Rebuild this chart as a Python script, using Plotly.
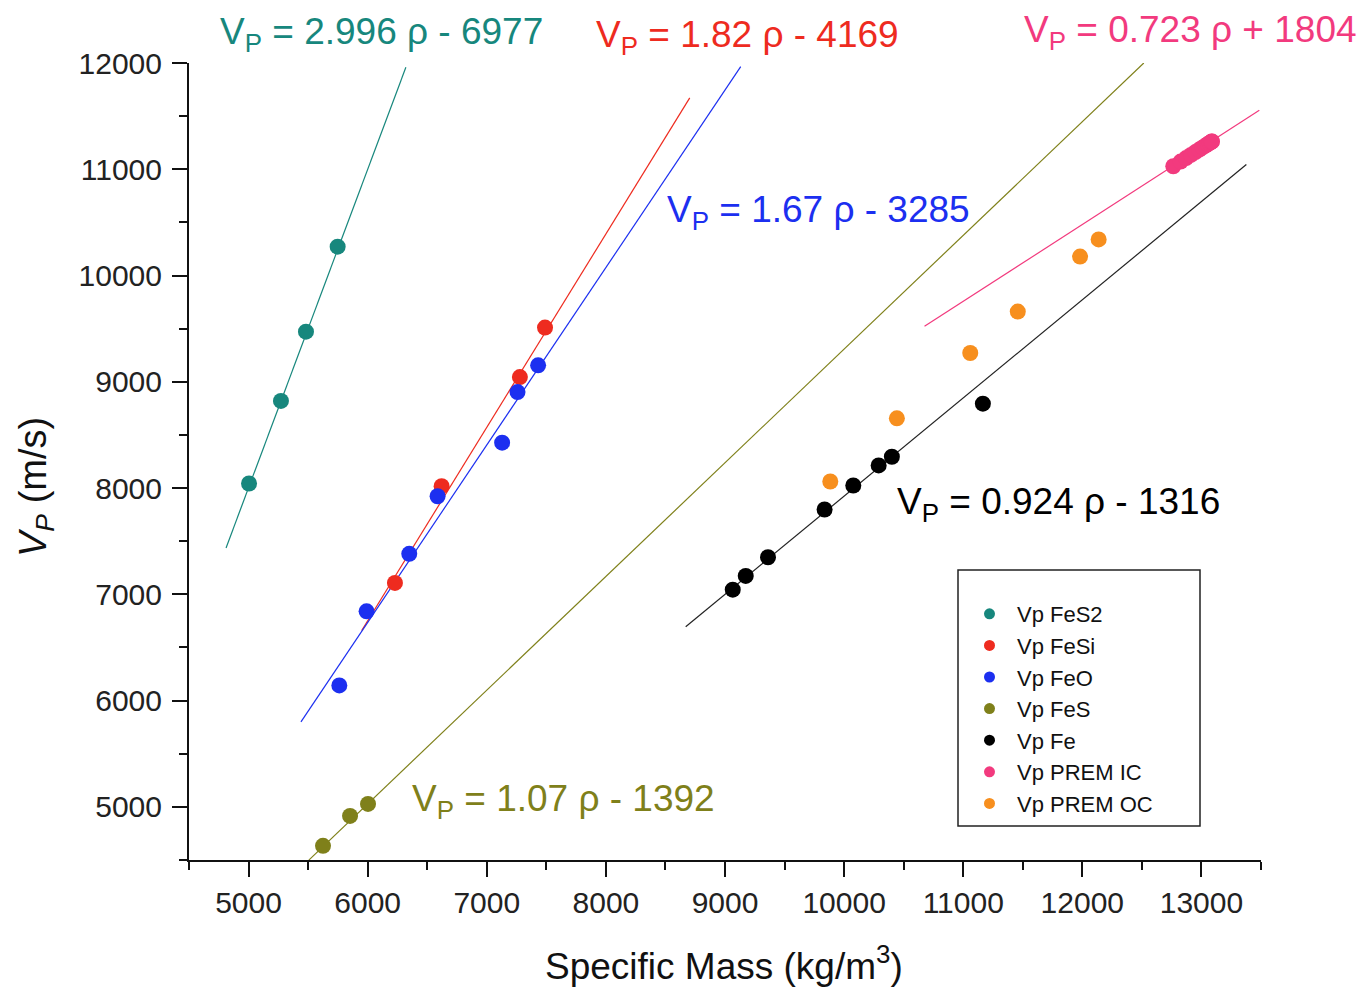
import plotly.graph_objects as go

# ---------------- data ----------------
fes2_rho = [5004, 5272, 5482, 5748]
fes2_vp = [8043, 8820, 9472, 10272]

fesi_rho = [6229, 6621, 7278, 7489]
fesi_vp = [7107, 8018, 9044, 9510]

feo_rho = [5762, 5991, 6349, 6587, 7129, 7258, 7431]
feo_vp = [6143, 6840, 7381, 7923, 8427, 8903, 9155]

fes_rho = [5625, 5852, 6003]
fes_vp = [4633, 4915, 5028]

fe_rho = [9065, 9174, 9361, 9836, 10077, 10290, 10401, 11165]
fe_vp = [7044, 7173, 7349, 7798, 8024, 8213, 8295, 8794]

prem_oc_rho = [9884, 10443, 11059, 11458, 11981, 12137]
prem_oc_vp = [8062, 8656, 9271, 9661, 10178, 10340]

prem_ic_rho = [12763.6, 12825.0, 12870.8, 12912.1, 12949.1, 12981.8, 13010.1,
               13034.1, 13053.7, 13068.9, 13079.8, 13086.3, 13088.5]
prem_ic_vp = [11028.3, 11072.5, 11105.4, 11135.2, 11161.9, 11185.4, 11205.8,
              11223.0, 11237.1, 11248.1, 11255.9, 11260.6, 11262.2]

# linear fits shown on the chart: slope, intercept, x extent of drawn line
fit_names = ["FeS2", "FeSi", "FeO", "FeS", "Fe", "PREM IC"]
fit_slope = [2.996, 1.82, 1.67, 1.07, 0.924, 0.723]
fit_icept = [-6977, -4169, -3285, -1392, -1316, 1804]
fit_xmin = [4811, 5950, 5440, 5506, 8670, 10675]
fit_xmax = [6321, 8704, 9132, 12516, 13377, 13486]
fit_labels = ["V<sub>P</sub> = 2.996 ρ - 6977", "V<sub>P</sub> = 1.82 ρ - 4169",
              "V<sub>P</sub> = 1.67 ρ - 3285", "V<sub>P</sub> = 1.07 ρ - 1392",
              "V<sub>P</sub> = 0.924 ρ - 1316", "V<sub>P</sub> = 0.723 ρ + 1804"]

x_tick_vals = [5000, 6000, 7000, 8000, 9000, 10000, 11000, 12000, 13000]
x_tick_text = ["5000", "6000", "7000", "8000", "9000", "10000", "11000", "12000", "13000"]
y_tick_vals = [5000, 6000, 7000, 8000, 9000, 10000, 11000, 12000]
y_tick_text = ["5000", "6000", "7000", "8000", "9000", "10000", "11000", "12000"]
x_minor_vals = [4500, 5500, 6500, 7500, 8500, 9500, 10500, 11500, 12500, 13500]
y_minor_vals = [4500, 5500, 6500, 7500, 8500, 9500, 10500, 11500]

# ---------------- styles ----------------
C_TEAL = "#17877d"
C_RED = "#ee2b1f"
C_BLUE = "#1c2ff0"
C_OLIVE = "#7f801a"
C_BLACK = "#000000"
C_PINK = "#f23a7e"
C_ORANGE = "#f78f1e"
fit_colors = [C_TEAL, C_RED, C_BLUE, C_OLIVE, "#222222", C_PINK]

FONT = "Liberation Sans, Arial, sans-serif"

fig = go.Figure()

# fit lines
for i in range(len(fit_names)):
    xs = [fit_xmin[i], fit_xmax[i]]
    ys = [fit_slope[i] * x + fit_icept[i] for x in xs]
    fig.add_trace(go.Scatter(x=xs, y=ys, mode="lines",
                             line=dict(color=fit_colors[i], width=1.2),
                             showlegend=False, hoverinfo="skip"))

series = [
    ("Vp FeS2", fes2_rho, fes2_vp, C_TEAL),
    ("Vp FeSi", fesi_rho, fesi_vp, C_RED),
    ("Vp FeO", feo_rho, feo_vp, C_BLUE),
    ("Vp FeS", fes_rho, fes_vp, C_OLIVE),
    ("Vp Fe", fe_rho, fe_vp, C_BLACK),
    ("Vp PREM IC", prem_ic_rho, prem_ic_vp, C_PINK),
    ("Vp PREM OC", prem_oc_rho, prem_oc_vp, C_ORANGE),
]

for name, xs, ys, col in series:
    fig.add_trace(go.Scatter(x=xs, y=ys, mode="markers", name=name,
                             marker=dict(color=col, size=16, line=dict(width=0)),
                             showlegend=False))
# legend-only entries with small symbols
for name, xs, ys, col in series:
    fig.add_trace(go.Scatter(x=[None], y=[None], mode="markers", name=name,
                             marker=dict(color=col, size=11, line=dict(width=0)),
                             showlegend=True))

# plot area in pixels: x 189..1261, y 63..860
L, R, T, B = 189, 1261, 63, 860
def px(xp):
    return (xp - L) / (R - L)
def py(yp):
    return (B - yp) / (B - T)

ann_pos = [(218, 34, C_TEAL), (594, 37, C_RED), (665, 212, C_BLUE),
           (410, 801, C_OLIVE), (895, 504, C_BLACK), (1022, 32, C_PINK)]
for lbl, (ax_, ay_, col) in zip(fit_labels, ann_pos):
    fig.add_annotation(x=px(ax_), y=py(ay_), xref="paper", yref="paper",
                       text=lbl, showarrow=False, xanchor="left", yanchor="middle",
                       font=dict(family=FONT, size=37, color=col))

# axis titles
fig.add_annotation(x=px(724), y=py(989), xref="paper", yref="paper",
                   text="Specific Mass (kg/m<sup>3</sup>)", showarrow=False,
                   xanchor="center", yanchor="bottom",
                   font=dict(family=FONT, size=37, color="#111111"))
fig.add_annotation(x=px(36), y=py(487), xref="paper", yref="paper",
                   text="<i>V<sub>P</sub></i> (m/s)", showarrow=False, textangle=-90,
                   xanchor="center", yanchor="middle",
                   font=dict(family=FONT, size=38, color="#111111"))

# legend box
fig.add_shape(type="rect", xref="paper", yref="paper",
              x0=px(958), x1=px(1200), y0=py(826), y1=py(570),
              line=dict(color="#222222", width=1.5), fillcolor="rgba(0,0,0,0)")

axis_common = dict(showline=True, linecolor="#111111", linewidth=2,
                   ticks="outside", ticklen=15, tickwidth=2, tickcolor="#111111",
                   showgrid=False, zeroline=False, mirror=False,
                   tickfont=dict(family=FONT, size=30, color="#222222"))

fig.update_xaxes(range=[4500, 13500], tickmode="array", tickvals=x_tick_vals,
                 ticktext=x_tick_text,
                 minor=dict(ticks="outside", ticklen=8, tickwidth=2, tickcolor="#111111",
                            tickmode="array", tickvals=x_minor_vals),
                 ticklabelstandoff=0, **axis_common)
fig.update_yaxes(range=[4500, 12000], tickmode="array", tickvals=y_tick_vals,
                 ticktext=y_tick_text,
                 minor=dict(ticks="outside", ticklen=8, tickwidth=2, tickcolor="#111111",
                            tickmode="array", tickvals=y_minor_vals),
                 ticklabelstandoff=4, **axis_common)

fig.update_layout(
    width=1366, height=989,
    margin=dict(l=L, r=1366 - R, t=T, b=989 - B, autoexpand=False),
    paper_bgcolor="white", plot_bgcolor="white",
    font=dict(family=FONT, color="#111111"),
    legend=dict(x=px(962), y=py(593), xanchor="left", yanchor="top",
                bgcolor="rgba(0,0,0,0)", borderwidth=0,
                font=dict(family=FONT, size=22, color="#111111"),
                tracegroupgap=0, itemwidth=45),
)

fig.write_html("out.html", config={"displayModeBar": False},
               post_script="document.body.style.margin='0px';document.body.style.overflow='hidden';")
